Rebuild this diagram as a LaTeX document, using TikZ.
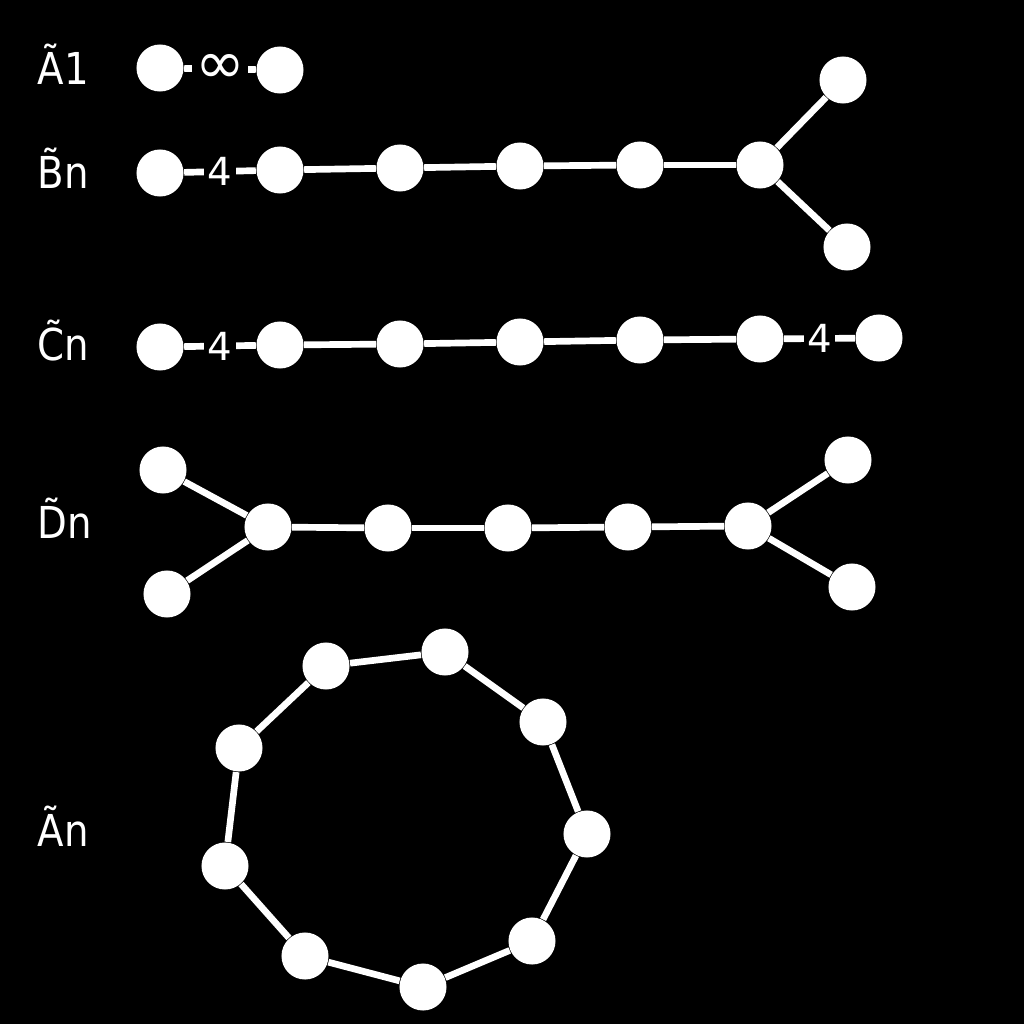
\documentclass[tikz,border=0pt]{standalone}
\usepackage{fontspec}
\setmainfont{DejaVu Sans}
\usetikzlibrary{calc}

\begin{document}
\begin{tikzpicture}[x=0.01cm,y=-0.01cm,
    vertex/.style={circle, fill=white, minimum size=0.47cm, inner sep=0pt},
    bond/.style={draw=white, line width=1.9pt},
    mark label/.style={fill=black, text=white, inner sep=1pt, font=\fontsize{11}{11}\selectfont},
    name label/.style={text=white, anchor=west, inner sep=0pt, xscale=0.88, transform shape,
      font=\fontsize{12.5}{12.5}\selectfont}
    ]
    \fill[black] (0,0) rectangle (1024,1024);
    \useasboundingbox (0,0) rectangle (1024,1024);

    % labels
    \node[name label] (lA1) at (37,64) {\~{A}1};
    \node[name label] (lB) at (37,168) {\~{B}n};
    \node[name label] (lC) at (37,341) {\~{C}n};
    \node[name label] (lD) at (37,518) {\~{D}n};
    \node[name label] (lA) at (37,826) {\~{A}n};

    % A1
    \node[vertex] (a1) at (160,68) {};
    \node[vertex] (a2) at (280,70) {};
    \draw[bond] (a1) -- node[mark label, font=\fontsize{17}{17}\selectfont] {∞} (a2);

    % Bn
    \node[vertex] (b1) at (160,173) {};
    \node[vertex] (b2) at (280,170) {};
    \node[vertex] (b3) at (400,168) {};
    \node[vertex] (b4) at (520,166) {};
    \node[vertex] (b5) at (640,165) {};
    \node[vertex] (b6) at (760,165) {};
    \node[vertex] (b7) at (843,80) {};
    \node[vertex] (b8) at (847,247) {};
    \draw[bond] (b1) -- node[mark label] {4} (b2);
    \foreach \i/\j in {2/3,3/4,4/5,5/6,6/7,6/8}
      \draw[bond] (b\i) -- (b\j);

    % Cn
    \node[vertex] (c1) at (160,347) {};
    \node[vertex] (c2) at (280,345) {};
    \node[vertex] (c3) at (400,344) {};
    \node[vertex] (c4) at (520,342) {};
    \node[vertex] (c5) at (640,340) {};
    \node[vertex] (c6) at (760,339) {};
    \node[vertex] (c7) at (879,338) {};
    \draw[bond] (c1) -- node[mark label] {4} (c2);
    \draw[bond] (c6) -- node[mark label] {4} (c7);
    \foreach \i/\j in {2/3,3/4,4/5,5/6}
      \draw[bond] (c\i) -- (c\j);

    % Dn
    \node[vertex] (d1) at (163,470) {};
    \node[vertex] (d2) at (167,594) {};
    \node[vertex] (d3) at (268,527) {};
    \node[vertex] (d4) at (388,528) {};
    \node[vertex] (d5) at (508,528) {};
    \node[vertex] (d6) at (628,527) {};
    \node[vertex] (d7) at (748,526) {};
    \node[vertex] (d8) at (848,460) {};
    \node[vertex] (d9) at (852,587) {};
    \foreach \i/\j in {1/3,2/3,3/4,4/5,5/6,6/7,7/8,7/9}
      \draw[bond] (d\i) -- (d\j);

    % An (cycle)
    \node[vertex] (e1) at (326,666) {};
    \node[vertex] (e2) at (445,652) {};
    \node[vertex] (e3) at (543,722) {};
    \node[vertex] (e4) at (587,834) {};
    \node[vertex] (e5) at (532,941) {};
    \node[vertex] (e6) at (423,987) {};
    \node[vertex] (e7) at (305,956) {};
    \node[vertex] (e8) at (225,866) {};
    \node[vertex] (e9) at (239,748) {};
    \foreach \i/\j in {1/2,2/3,3/4,4/5,5/6,6/7,7/8,8/9,9/1}
      \draw[bond] (e\i) -- (e\j);
  \end{tikzpicture}
\end{document}
